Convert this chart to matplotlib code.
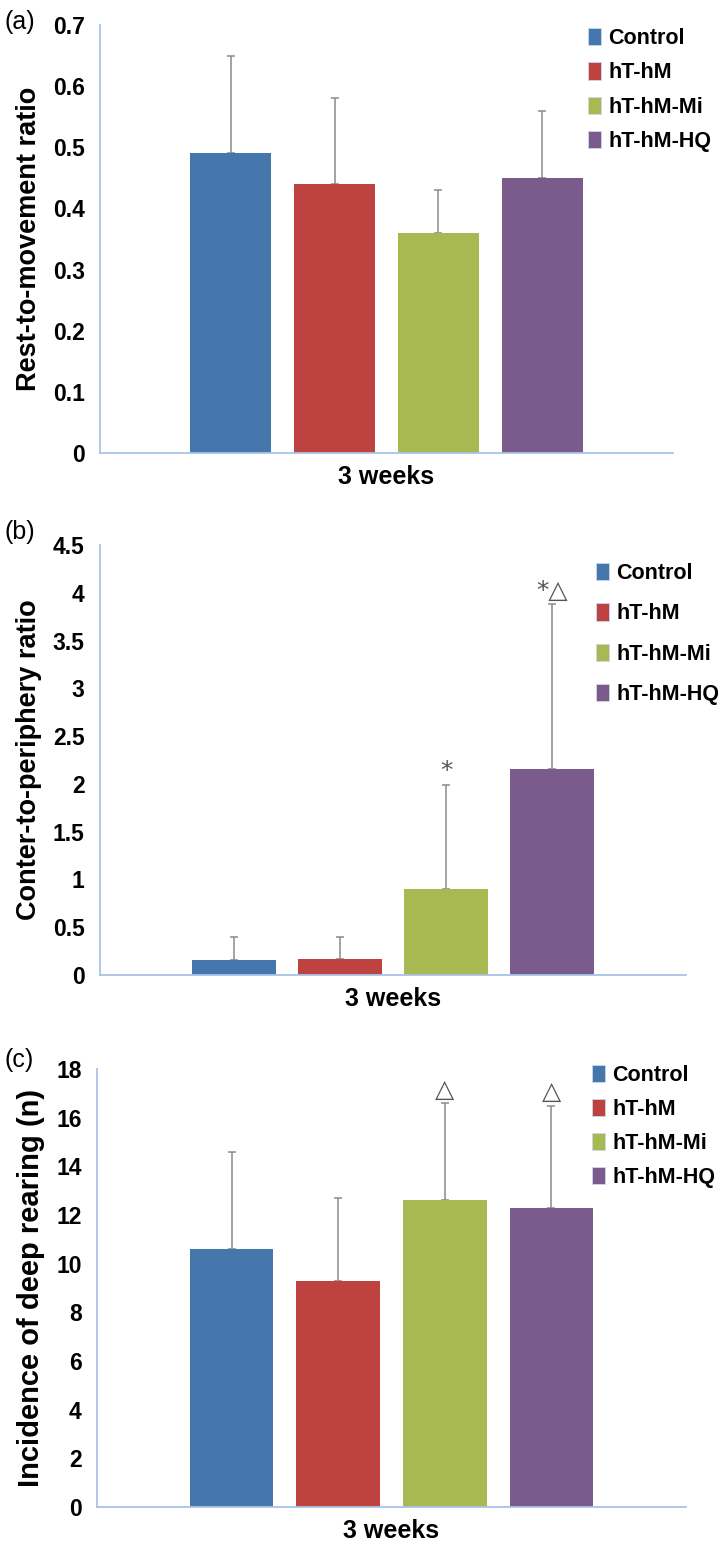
import matplotlib.pyplot as plt
from matplotlib.patches import Patch
from matplotlib.ticker import FuncFormatter, MultipleLocator

groups = ["Control", "hT-hM", "hT-hM-Mi", "hT-hM-HQ"]
colors = ["#4677ac", "#be423f", "#a7b950", "#7b5a8c"]
category = "3 weeks"

# (a) rest-to-movement ratio
rest_mean = [0.49, 0.44, 0.36, 0.45]
rest_err = [0.16, 0.14, 0.07, 0.11]

# (b) center-to-periphery ratio
center_mean = [0.16, 0.17, 0.90, 2.16]
center_err = [0.24, 0.23, 1.09, 1.72]
center_marks = ["", "", "*", "*\u25b3"]

# (c) deep rearing incidence
rear_mean = [10.6, 9.3, 12.6, 12.3]
rear_err = [4.0, 3.4, 4.0, 4.2]
rear_marks = ["", "", "\u25b3", "\u25b3"]

bold_font = ["Liberation Sans", "DejaVu Sans"]

fig = plt.figure(figsize=(7.25, 15.44), dpi=100)
W, H = 725, 1544


def add_ax(left, right, top, bottom):
    return fig.add_axes([left / W, 1 - bottom / H, (right - left) / W, (bottom - top) / H])


panels = [
    dict(box=(100, 673, 25, 453), mean=rest_mean, err=rest_err, marks=None,
         ylim=0.7, step=0.1, ylabel="Rest-to-movement ratio", ysize=19.5,
         tag="(a)", tag_y=22, leg_x=588, leg_y=28, leg_sp=0.62, bw=0.14, gap=0.1815),
    dict(box=(100, 686, 545, 975), mean=center_mean, err=center_err, marks=center_marks,
         ylim=4.5, step=0.5, ylabel="Conter-to-periphery ratio", ysize=19.5,
         tag="(b)", tag_y=532, leg_x=596, leg_y=563, leg_sp=0.9, bw=0.142, gap=0.181),
    dict(box=(97, 686, 1069, 1507), mean=rear_mean, err=rear_err, marks=rear_marks,
         ylim=18, step=2, ylabel="Incidence of deep rearing (n)", ysize=21,
         tag="(c)", tag_y=1060, leg_x=592, leg_y=1065, leg_sp=0.6, bw=0.142, gap=0.181),
]

for p in panels:
    ax = add_ax(*p["box"])
    l, r, t, b = p["box"]
    offs = [(i - 1.5) * p["gap"] for i in range(len(groups))]
    for i, g in enumerate(groups):
        ax.bar(offs[i], p["mean"][i], width=p["bw"], color=colors[i], zorder=2)
        ax.errorbar(offs[i], p["mean"][i], yerr=[[0], [p["err"][i]]], ecolor="#8a8a8a",
                    elinewidth=1.1, capsize=3, capthick=1.1, fmt="none", zorder=1)
        if p["marks"] and p["marks"][i]:
            ax.annotate(p["marks"][i], xy=(offs[i], p["mean"][i] + p["err"][i]),
                        xytext=(0, 1), textcoords="offset points", ha="center", va="bottom",
                        fontsize=18, color="#555555", family=["DejaVu Sans"])
    ax.set_xlim(-0.5, 0.5)
    ax.set_ylim(0, p["ylim"])
    ax.yaxis.set_major_locator(MultipleLocator(p["step"]))
    ax.yaxis.set_major_formatter(FuncFormatter(lambda v, pos: "%g" % round(v, 3)))
    ax.set_xticks([0])
    ax.set_xticklabels([category])
    for s in ["top", "right"]:
        ax.spines[s].set_visible(False)
    for s in ["left", "bottom"]:
        ax.spines[s].set_color("#a9c4e6")
        ax.spines[s].set_linewidth(1.3)
    ax.tick_params(axis="both", length=0)
    ax.tick_params(axis="y", pad=11)
    ax.tick_params(axis="x", pad=9)
    for lab in ax.get_yticklabels():
        lab.set_family(bold_font)
        lab.set_fontweight("bold")
        lab.set_fontsize(16.5)
    for lab in ax.get_xticklabels():
        lab.set_family(bold_font)
        lab.set_fontweight("bold")
        lab.set_fontsize(18)
    ax.set_ylabel(p["ylabel"], fontsize=p["ysize"], fontweight="bold", family=bold_font, labelpad=8)
    handles = [Patch(facecolor=c, edgecolor="#c8d8ee", linewidth=0.6) for c in colors]
    ax.legend(handles, groups, loc="upper left",
              bbox_to_anchor=((p["leg_x"] - l) / (r - l), (b - p["leg_y"]) / (b - t)),
              frameon=False, handlelength=0.6, handleheight=0.85, handletextpad=0.35,
              labelspacing=p["leg_sp"], borderaxespad=0, borderpad=0,
              prop=dict(family=bold_font, weight="bold", size=15.5))
    fig.text(4 / W, 1 - p["tag_y"] / H, p["tag"], fontsize=18, family=bold_font,
             va="center", ha="left")

fig.savefig("out.png", dpi=100)
